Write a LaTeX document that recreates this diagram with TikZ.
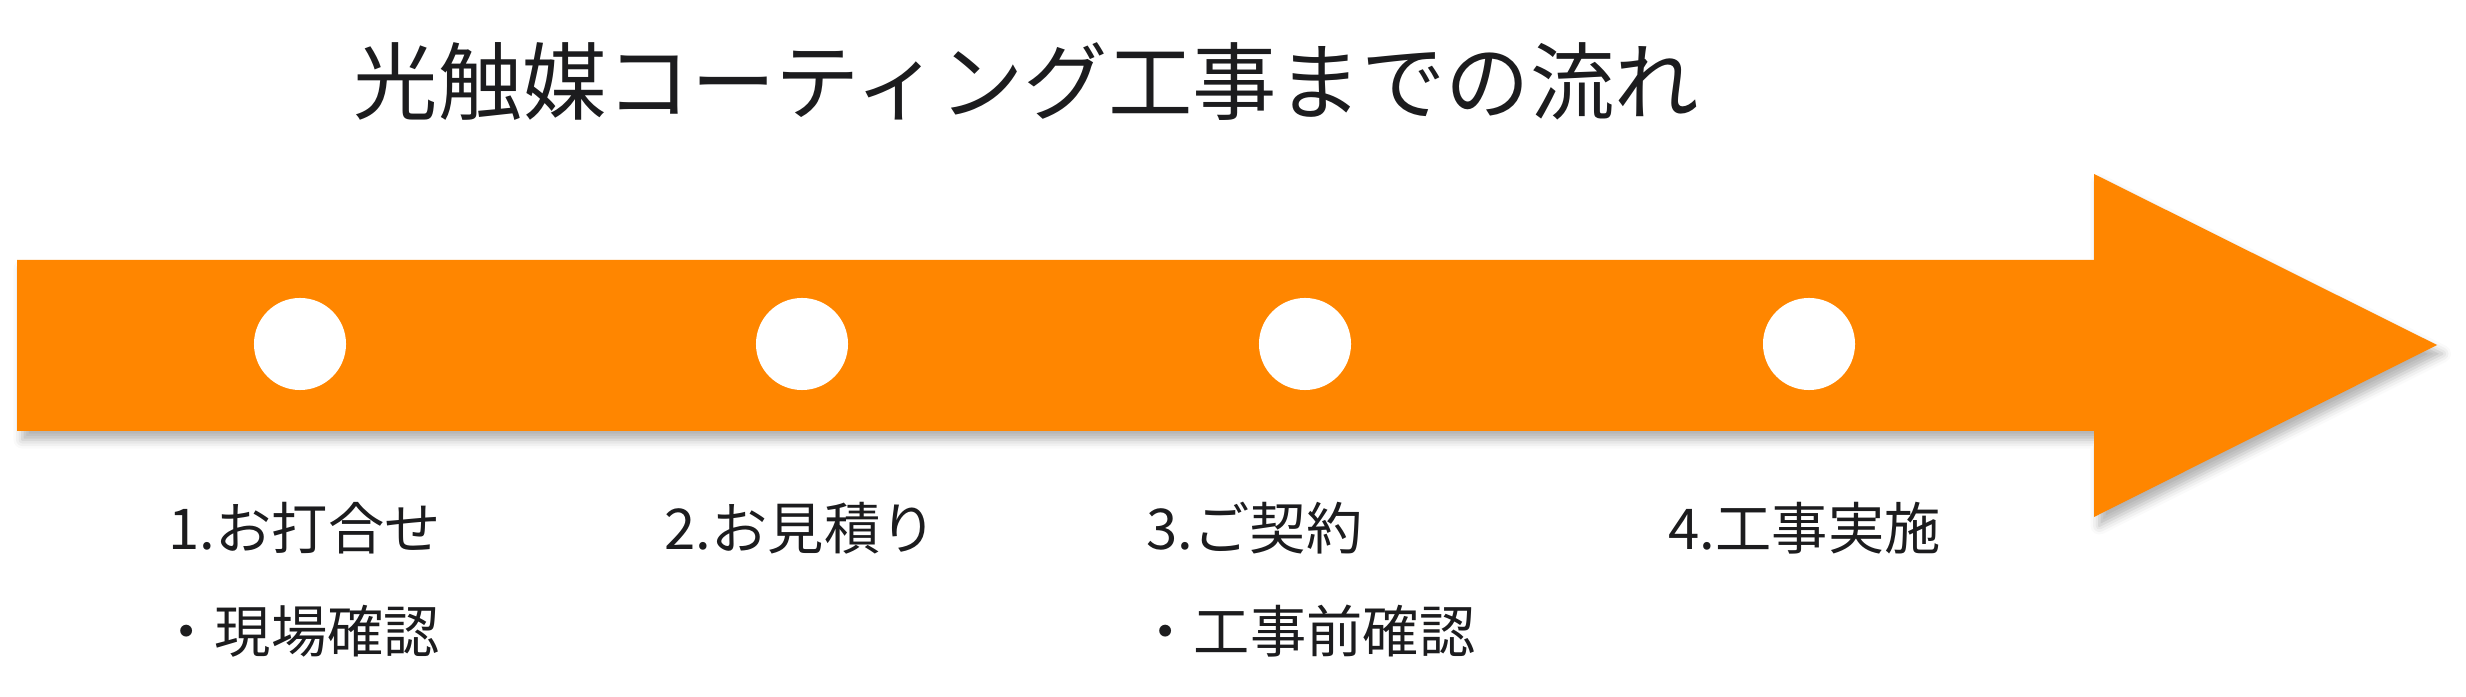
\documentclass[tikz,border=0pt]{standalone}
\usepackage{fontspec}
\setmainfont{Noto Sans CJK JP}
\usepackage{xcolor}
\usepackage{tikz}
\usetikzlibrary{positioning,shadows.blur}
\definecolor{flow}{RGB}{255,134,0}
\definecolor{ink}{RGB}{28,28,30}

\begin{document}
\begin{tikzpicture}[x=0.01cm,y=0.01cm,
    stepdot/.style={circle,fill=white,minimum size=0.92cm,inner sep=0pt},
    steplabel/.style={anchor=base west,inner sep=0pt,text=ink,font=\fontsize{16}{18}\selectfont}]
                \useasboundingbox (0,0) rectangle (2466,697);
                % big arrow
                \fill[flow,blur shadow={shadow xshift=1.5pt,shadow yshift=-2.5pt,shadow blur radius=2.5pt,shadow opacity=30}]
                    (17,437) -- (2094,437) -- (2094,523) -- (2437,352) -- (2094,180) -- (2094,266) -- (17,266) -- cycle;
                % title
                \node[anchor=base west,inner sep=0pt,text=ink,font=\fontsize{24}{28}\selectfont] (title) at (353,583) {光触媒コーティング工事までの流れ};
                % white dots on the arrow
                \foreach \i/\x in {1/300,2/802,3/1305,4/1809}
                    \node[stepdot] (dot\i) at (\x,353) {};
                % step labels
                \node[steplabel] (step1) at (168,147) {1.お打合せ};
                \node[steplabel] (step1b) at (158,44) {・現場確認};
                \node[steplabel] (step2) at (664,147) {2.お見積り};
                \node[steplabel] (step3) at (1146,147) {3.ご契約};
                \node[steplabel] (step3b) at (1137,44) {・工事前確認};
                \node[steplabel] (step4) at (1668,147) {4.工事実施};
            \end{tikzpicture}
\end{document}
